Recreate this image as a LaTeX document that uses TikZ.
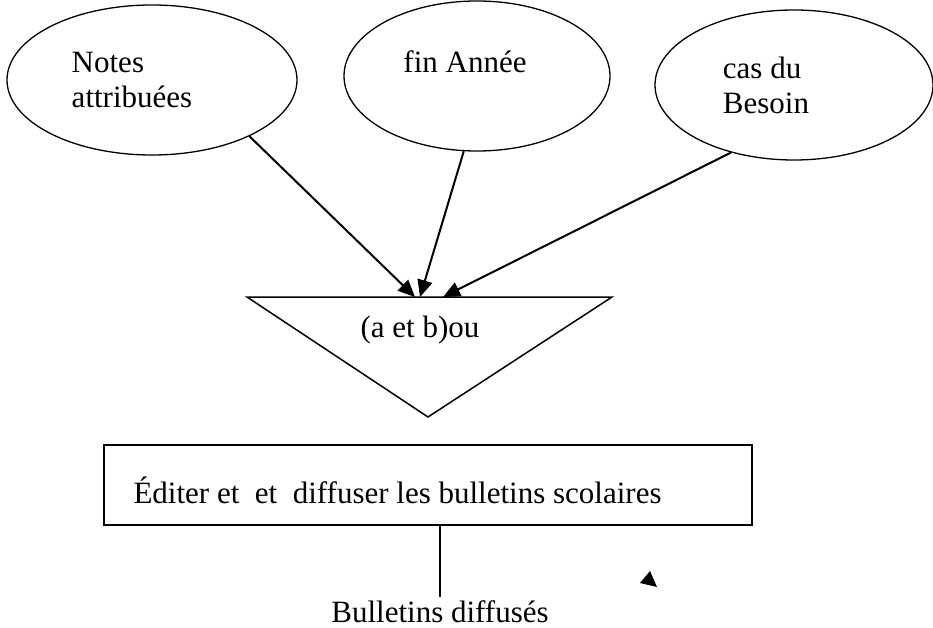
\documentclass[tikz,border=0pt]{standalone}
\usepackage{fontspec}
\setmainfont{Liberation Serif}
\usetikzlibrary{arrows.meta,shapes,positioning,calc}

\begin{document}
\begin{tikzpicture}[x=1pt, y=-1pt, font=\fontsize{31}{35}\selectfont,
    bubble/.style={draw, ellipse, line width=1.3pt, minimum height=150pt},
    flow/.style={-{Triangle[length=17pt, width=15pt]}, line width=2pt}]
    \useasboundingbox (0,0) rectangle (933,628);
    % trois evenements
    \node[bubble, minimum width=290pt] (notes) at (152,80) {};
    \node[bubble, minimum width=266pt] (fin) at (477,76) {};
    \node[bubble, minimum width=278pt] (cas) at (794,85) {};
    \node[align=left] (notestxt) at ([xshift=-20pt]notes.center) {Notes\\attribu\'ees};
    \node[align=left] (fintxt) at ([xshift=-12pt, yshift=14pt]fin.center) {fin Ann\'ee};
    \node[align=left] (castxt) at ([xshift=-28pt]cas.center) {cas du\\Besoin};
    % synchronisation
    \coordinate (tl) at (247,297);
    \coordinate (tr) at (612,297);
    \coordinate (apex) at (428,417);
    \draw[line width=1.5pt] (tl) -- (tr) -- (apex) -- cycle;
    \node (sync) at (420,330) {(a et b)ou};
    \coordinate (in1) at (415,297);
    \coordinate (in2) at (420,297);
    \coordinate (in3) at (443,297);
    \draw[flow] (notes.-30) -- (in1);
    \draw[flow] (fin.-100) -- (in2);
    \draw[flow] (cas.-133) -- (in3);
    % operation
    \node[draw, line width=1.5pt, minimum width=648pt, minimum height=80pt] (box) at (428,485) {};
    \node[anchor=base west] (boxtxt) at (130,503) {\'Editer et~ et~ diffuser les bulletins scolaires};
    \node (out) at (440,612) {Bulletins diffus\'es};
    \draw[line width=1.5pt] (box.south -| out.north) -- (out.north);
    \fill (640,583) -- (650,571) -- (657,587) -- cycle;
\end{tikzpicture}
\end{document}
